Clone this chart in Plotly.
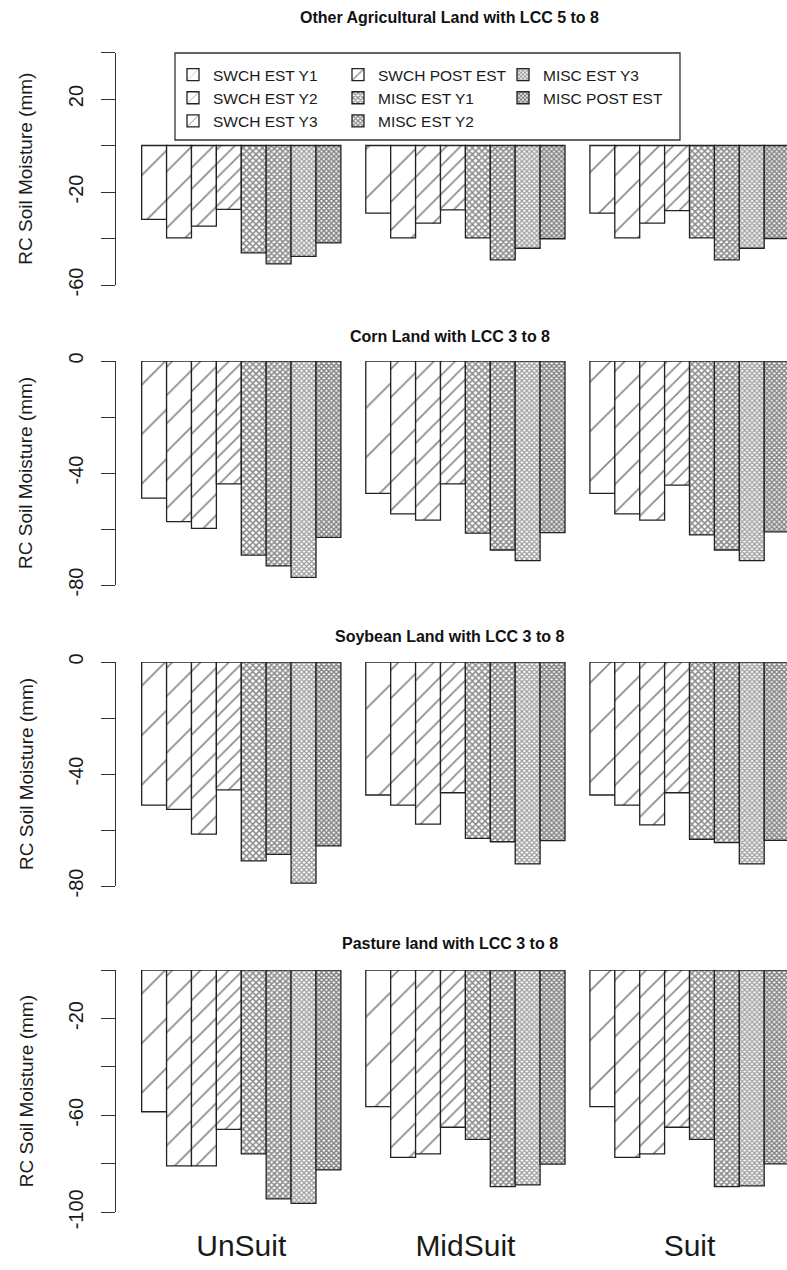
import plotly.graph_objects as go

W, H = 787, 1270

groups = ["UnSuit", "MidSuit", "Suit"]
series = ["SWCH EST Y1", "SWCH EST Y2", "SWCH EST Y3", "SWCH POST EST",
          "MISC EST Y1", "MISC EST Y2", "MISC EST Y3", "MISC POST EST"]

titles = ["Other Agricultural Land with LCC 5 to 8",
          "Corn Land with LCC 3 to 8",
          "Soybean Land with LCC 3 to 8",
          "Pasture land with LCC 3 to 8"]

# RC soil moisture (mm); one row per series, columns follow `groups`
other_ag = [
    [-31.8, -29.1, -29.1],
    [-39.7, -39.7, -39.7],
    [-34.7, -33.4, -33.4],
    [-27.5, -27.7, -28.0],
    [-46.2, -39.7, -39.7],
    [-50.9, -49.2, -49.2],
    [-47.7, -44.2, -44.2],
    [-41.9, -40.1, -40.0],
]
corn = [
    [-49.0, -47.3, -47.3],
    [-57.4, -54.6, -54.6],
    [-59.8, -56.8, -56.8],
    [-43.9, -43.9, -44.3],
    [-69.3, -61.5, -62.1],
    [-73.2, -67.5, -67.5],
    [-77.3, -71.3, -71.3],
    [-63.0, -61.3, -61.0],
]
soybean = [
    [-51.1, -47.5, -47.5],
    [-52.6, -51.1, -51.1],
    [-61.5, -57.9, -58.2],
    [-45.7, -46.7, -46.7],
    [-71.0, -63.0, -63.3],
    [-68.7, -64.2, -64.5],
    [-79.0, -72.1, -72.1],
    [-65.7, -63.8, -63.7],
]
pasture = [
    [-58.5, -56.4, -56.4],
    [-80.8, -77.3, -77.3],
    [-80.8, -75.9, -75.9],
    [-65.8, -64.9, -64.9],
    [-75.9, -69.9, -69.9],
    [-94.5, -89.4, -89.4],
    [-96.3, -88.7, -89.1],
    [-82.5, -80.1, -80.0],
]
panels = [other_ag, corn, soybean, pasture]

# y axis ticks per panel (labels thinned the way base graphics does it)
y_ranges = [[-60, 40], [-80, 0], [-80, 0], [-100, 0]]
y_tickvals = [[40, 20, 0, -20, -40, -60],
              [0, -20, -40, -60, -80],
              [0, -20, -40, -60, -80],
              [0, -20, -40, -60, -80, -100]]
y_ticktext = [["", "20", "", "-20", "", "-60"],
              ["0", "", "-40", "", "-80"],
              ["0", "", "-40", "", "-80"],
              ["", "-20", "", "-60", "", "-100"]]

# vertical pixel extent of each panel's axis (top, bottom)
panel_px = [(52.5, 285.0), (361.0, 585.0), (662.0, 886.0), (970.0, 1212.3)]
title_px = [17, 336, 636, 943]

# fill pattern per series: (shape, size, solidity, fg colour)
patterns = [
    ("/", 35, 1.7 / 35, "#111"),
    ("/", 20, 1.7 / 20, "#111"),
    ("/", 15, 1.7 / 15, "#111"),
    ("/", 10, 1.6 / 10, "#111"),
    ("x", 4.5, 0.55, "#111"),
    ("x", 4, 0.62, "#111"),
    ("x", 3.5, 0.6, "#3a3a3a"),
    ("x", 3.5, 0.68, "#000"),
]
legend_of = ["legend", "legend", "legend", "legend2",
             "legend2", "legend2", "legend3", "legend3"]

FONT = "Liberation Sans, Arial, sans-serif"


def px_x(x):
    return x / W


def px_y(y):
    return 1 - y / H


fig = go.Figure()

for p, data in enumerate(panels):
    ax = "" if p == 0 else str(p + 1)
    for s, name in enumerate(series):
        shape, size, solid, fg = patterns[s]
        fig.add_trace(go.Bar(
            x=groups, y=data[s], name=name,
            xaxis="x" + ax, yaxis="y" + ax,
            marker=dict(color="white",
                        line=dict(color="#222", width=1.3),
                        pattern=dict(shape=shape, size=size, solidity=solid,
                                     fgcolor=fg, bgcolor="white")),
            showlegend=(p == 0), legend=legend_of[s],
            legendgroup=name,
        ))

layout = dict(
    width=W, height=H,
    margin=dict(l=0, r=0, t=0, b=0, autoexpand=False),
    paper_bgcolor="white", plot_bgcolor="white",
    barmode="group", bargap=1 / 9, bargroupgap=0,
    font=dict(family=FONT, color="#1a1a1a"),
)

x_range = [-0.559, 2.435]
for p in range(4):
    ax = "" if p == 0 else str(p + 1)
    top, bot = panel_px[p]
    layout["xaxis" + ax] = dict(
        domain=[px_x(116), 1], range=x_range, anchor="y" + ax,
        automargin=False,
        showline=False, showgrid=False, zeroline=False,
        showticklabels=(p == 3), ticks="outside" if p == 3 else "",
        ticklen=7, tickcolor="rgba(0,0,0,0)",
        tickfont=dict(size=30, color="#1a1a1a", family=FONT),
    )
    layout["yaxis" + ax] = dict(
        domain=[px_y(bot), px_y(top)], range=y_ranges[p], anchor="x" + ax,
        automargin=False,
        showline=True, linecolor="#333", linewidth=1.2,
        showgrid=False, zeroline=False,
        ticks="outside", ticklen=14, tickwidth=1.2, tickcolor="#333",
        ticklabelstandoff=10,
        tickvals=y_tickvals[p], ticktext=y_ticktext[p],
        tickangle=-90, tickfont=dict(size=20, color="#1a1a1a", family=FONT),
    )

# legend: three columns inside a framed box
leg_common = dict(bgcolor="rgba(0,0,0,0)", borderwidth=0,
                  font=dict(size=15.5, family=FONT, color="#1a1a1a"),
                  xanchor="left", yanchor="top", orientation="v",
                  itemwidth=30, tracegroupgap=0)
layout["legend"] = dict(leg_common, x=px_x(173), y=px_y(58))
layout["legend2"] = dict(leg_common, x=px_x(338), y=px_y(58))
layout["legend3"] = dict(leg_common, x=px_x(503), y=px_y(58))

fig.update_layout(**layout)

fig.add_shape(type="rect", xref="paper", yref="paper",
              x0=px_x(175), x1=px_x(680), y0=px_y(140), y1=px_y(53),
              line=dict(color="#333", width=1.3), fillcolor="rgba(0,0,0,0)")

for p in range(4):
    fig.add_annotation(text="<b>" + titles[p] + "</b>", xref="paper", yref="paper",
                       x=px_x(450), y=px_y(title_px[p]), showarrow=False,
                       xanchor="center", yanchor="middle",
                       font=dict(size=16, family=FONT, color="#111"))
    top, bot = panel_px[p]
    fig.add_annotation(text="RC Soil Moisture (mm)", xref="paper", yref="paper",
                       x=px_x(26), y=px_y((top + bot) / 2), showarrow=False,
                       textangle=-90, xanchor="center", yanchor="middle",
                       font=dict(size=19, family=FONT, color="#1a1a1a"))

fig.write_html("out.html")
